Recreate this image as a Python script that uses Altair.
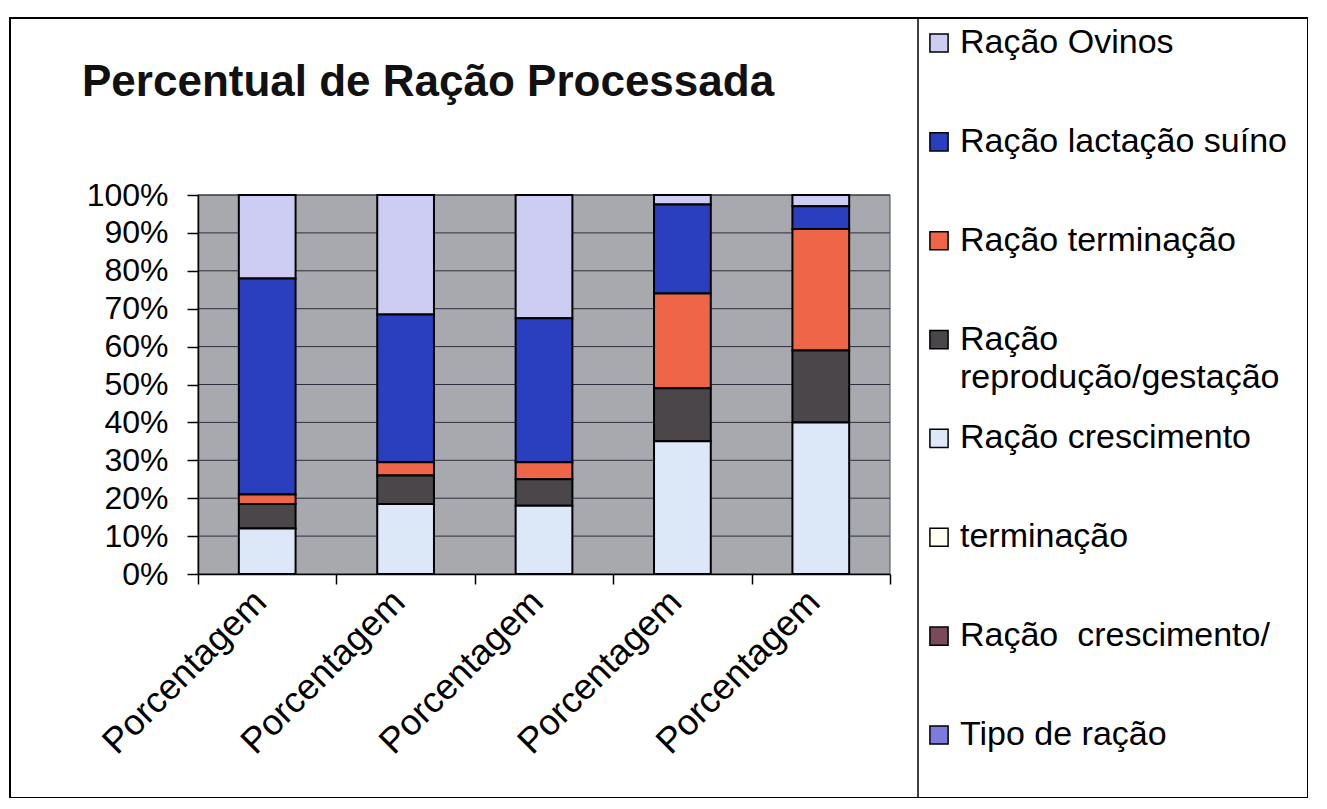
import json
import altair as alt
import pandas as pd

FONT = "Liberation Sans, Arial, Helvetica, sans-serif"

# ---- data ----
categories = ["c1", "c2", "c3", "c4", "c5"]
tick_labels = ["Porcentagem", "Porcentagem", "Porcentagem", "Porcentagem", "Porcentagem"]

series = [
    "Ração Ovinos",
    "Ração lactação suíno",
    "Ração terminação",
    "Ração reprodução/gestação",
    "Ração crescimento",
    "terminação",
    "Ração  crescimento/",
    "Tipo de ração",
]
legend_line1 = [
    "Ração Ovinos",
    "Ração lactação suíno",
    "Ração terminação",
    "Ração",
    "Ração crescimento",
    "terminação",
    "Ração\u00a0 crescimento/",
    "Tipo de ração",
]
legend_line2 = ["", "", "", "reprodução/gestação", "", "", "", ""]
colors = ["#CDCDF3", "#2A3FBE", "#EF6548", "#4A4649", "#DCE7F7", "#FFFFF0", "#7A4A5A", "#7C7CDC"]

ovinos = [22, 31.5, 32.5, 2.5, 3]
lactacao = [57, 39, 38, 23.5, 6]
terminacao = [2.5, 3.5, 4.5, 25, 32]
reproducao = [6.5, 7.5, 7, 14, 19]
crescimento = [12, 18.5, 18, 35, 40]
terminacao2 = [0, 0, 0, 0, 0]
crescimento2 = [0, 0, 0, 0, 0]
tipo = [0, 0, 0, 0, 0]
values = [ovinos, lactacao, terminacao, reproducao, crescimento, terminacao2, crescimento2, tipo]

y_ticks = [0, 0.1, 0.2, 0.3, 0.4, 0.5, 0.6, 0.7, 0.8, 0.9, 1.0]
TITLE = "Percentual de Ração Processada"

# ---- layout ----
W, H = 1298, 780
X0, X1 = 188, 880
Y_TOP, Y_BOT = 177, 556

rows = []
for si, (name, vals) in enumerate(zip(series, values)):
    for ci, v in enumerate(vals):
        rows.append({"cat": categories[ci], "series": name, "value": v,
                     "rank": len(series) - 1 - si})
df = pd.DataFrame(rows)

color_scale = alt.Scale(domain=series, range=colors)
yscale = alt.Scale(domain=[0, 1], range=[Y_BOT, Y_TOP], nice=False, zero=False)
yaxis = alt.Axis(values=y_ticks, format=".0%", offset=-X0, title=None,
                 labelFontSize=32, labelFont=FONT, labelColor="black", labelPadding=19,
                 tickSize=11, tickColor="black", tickWidth=1.5, zindex=2,
                 domainColor="black", domainWidth=1.5, grid=False)

bg = alt.Chart(pd.DataFrame({"lo": [0.0], "hi": [1.0]})).mark_rect(
    color="#A8A8AF", stroke="#4A4A5A", strokeWidth=1
).encode(
    x=alt.value(X0), x2=alt.value(X1),
    y=alt.Y("lo:Q", scale=yscale, axis=yaxis), y2="hi:Q",
)

grid = alt.Chart(pd.DataFrame({"t": y_ticks[1:]})).mark_rule(
    color="#2E2E3E", strokeWidth=1
).encode(
    x=alt.value(X0), x2=alt.value(X1),
    y=alt.Y("t:Q", scale=yscale, axis=yaxis),
)

label_expr = f"{json.dumps(tick_labels, ensure_ascii=False)}[indexof({json.dumps(categories)}, datum.value)]"

bars = alt.Chart(df).transform_filter("datum.value > 0").mark_bar(
    stroke="black", strokeWidth=2, width=alt.RelativeBandSize(0.41)
).encode(
    x=alt.X("cat:N", sort=categories,
            scale=alt.Scale(domain=categories, range=[X0, X1], paddingInner=0, paddingOuter=0),
            axis=alt.Axis(orient="bottom", offset=-(H - Y_BOT), title=None, labelExpr=label_expr,
                          labelAngle=-45, labelAlign="right", labelBaseline="middle",
                          labelFontSize=36, labelFont=FONT, labelColor="black", labelPadding=12,
                          labelOffset=-7, labelLimit=500, tickBand="extent", tickSize=10,
                          tickColor="black", tickWidth=1.5, domainColor="black", domainWidth=1.5,
                          grid=False, zindex=2)),
    y=alt.Y("value:Q", stack="normalize", scale=yscale, axis=yaxis),
    color=alt.Color("series:N", scale=color_scale, legend=None),
    order=alt.Order("rank:Q", sort="ascending"),
)

plot = alt.layer(bg, grid, bars)

leg_df = pd.DataFrame({"series": series, "line1": legend_line1, "line2": legend_line2})
leg_y = alt.Y("series:N", sort=series,
              scale=alt.Scale(domain=series, range=[25, 717], padding=0), axis=None)

leg_sq = alt.Chart(leg_df).mark_square(size=330, stroke="black", strokeWidth=1.5, opacity=1).encode(
    x=alt.value(929), y=leg_y, color=alt.Color("series:N", scale=color_scale, legend=None)
)
leg_t1 = alt.Chart(leg_df).mark_text(align="left", baseline="middle", fontSize=34, font=FONT,
                                     color="black").encode(
    x=alt.value(950), y=leg_y, text="line1:N"
)
leg_t2 = alt.Chart(leg_df).transform_filter("datum.line2 != ''").mark_text(
    align="left", baseline="middle", fontSize=34, font=FONT, color="black", dy=38
).encode(
    x=alt.value(950), y=leg_y, text="line2:N"
)
legend = alt.layer(leg_sq, leg_t1, leg_t2)

title = alt.Chart(pd.DataFrame({"t": [TITLE]})).mark_text(
    align="left", baseline="alphabetic", fontSize=44, fontWeight="bold", font=FONT, color="#111111"
).encode(x=alt.value(72), y=alt.value(78), text="t:N")

divider = alt.Chart(pd.DataFrame({"a": [0]})).mark_rule(color="black", strokeWidth=1.5).encode(
    x=alt.value(908), y=alt.value(0), y2=alt.value(H)
)

chart = alt.layer(plot, legend, title, divider).resolve_scale(
    y="independent", x="independent"
).properties(
    width=W, height=H,
    autosize=alt.AutoSizeParams(type="none"),
    padding={"left": 2, "top": 10, "right": 0, "bottom": 0},
    background="white",
).configure_view(stroke="black", strokeWidth=2)

chart.save("out.html", embed_options={"renderer": "svg", "actions": False})
